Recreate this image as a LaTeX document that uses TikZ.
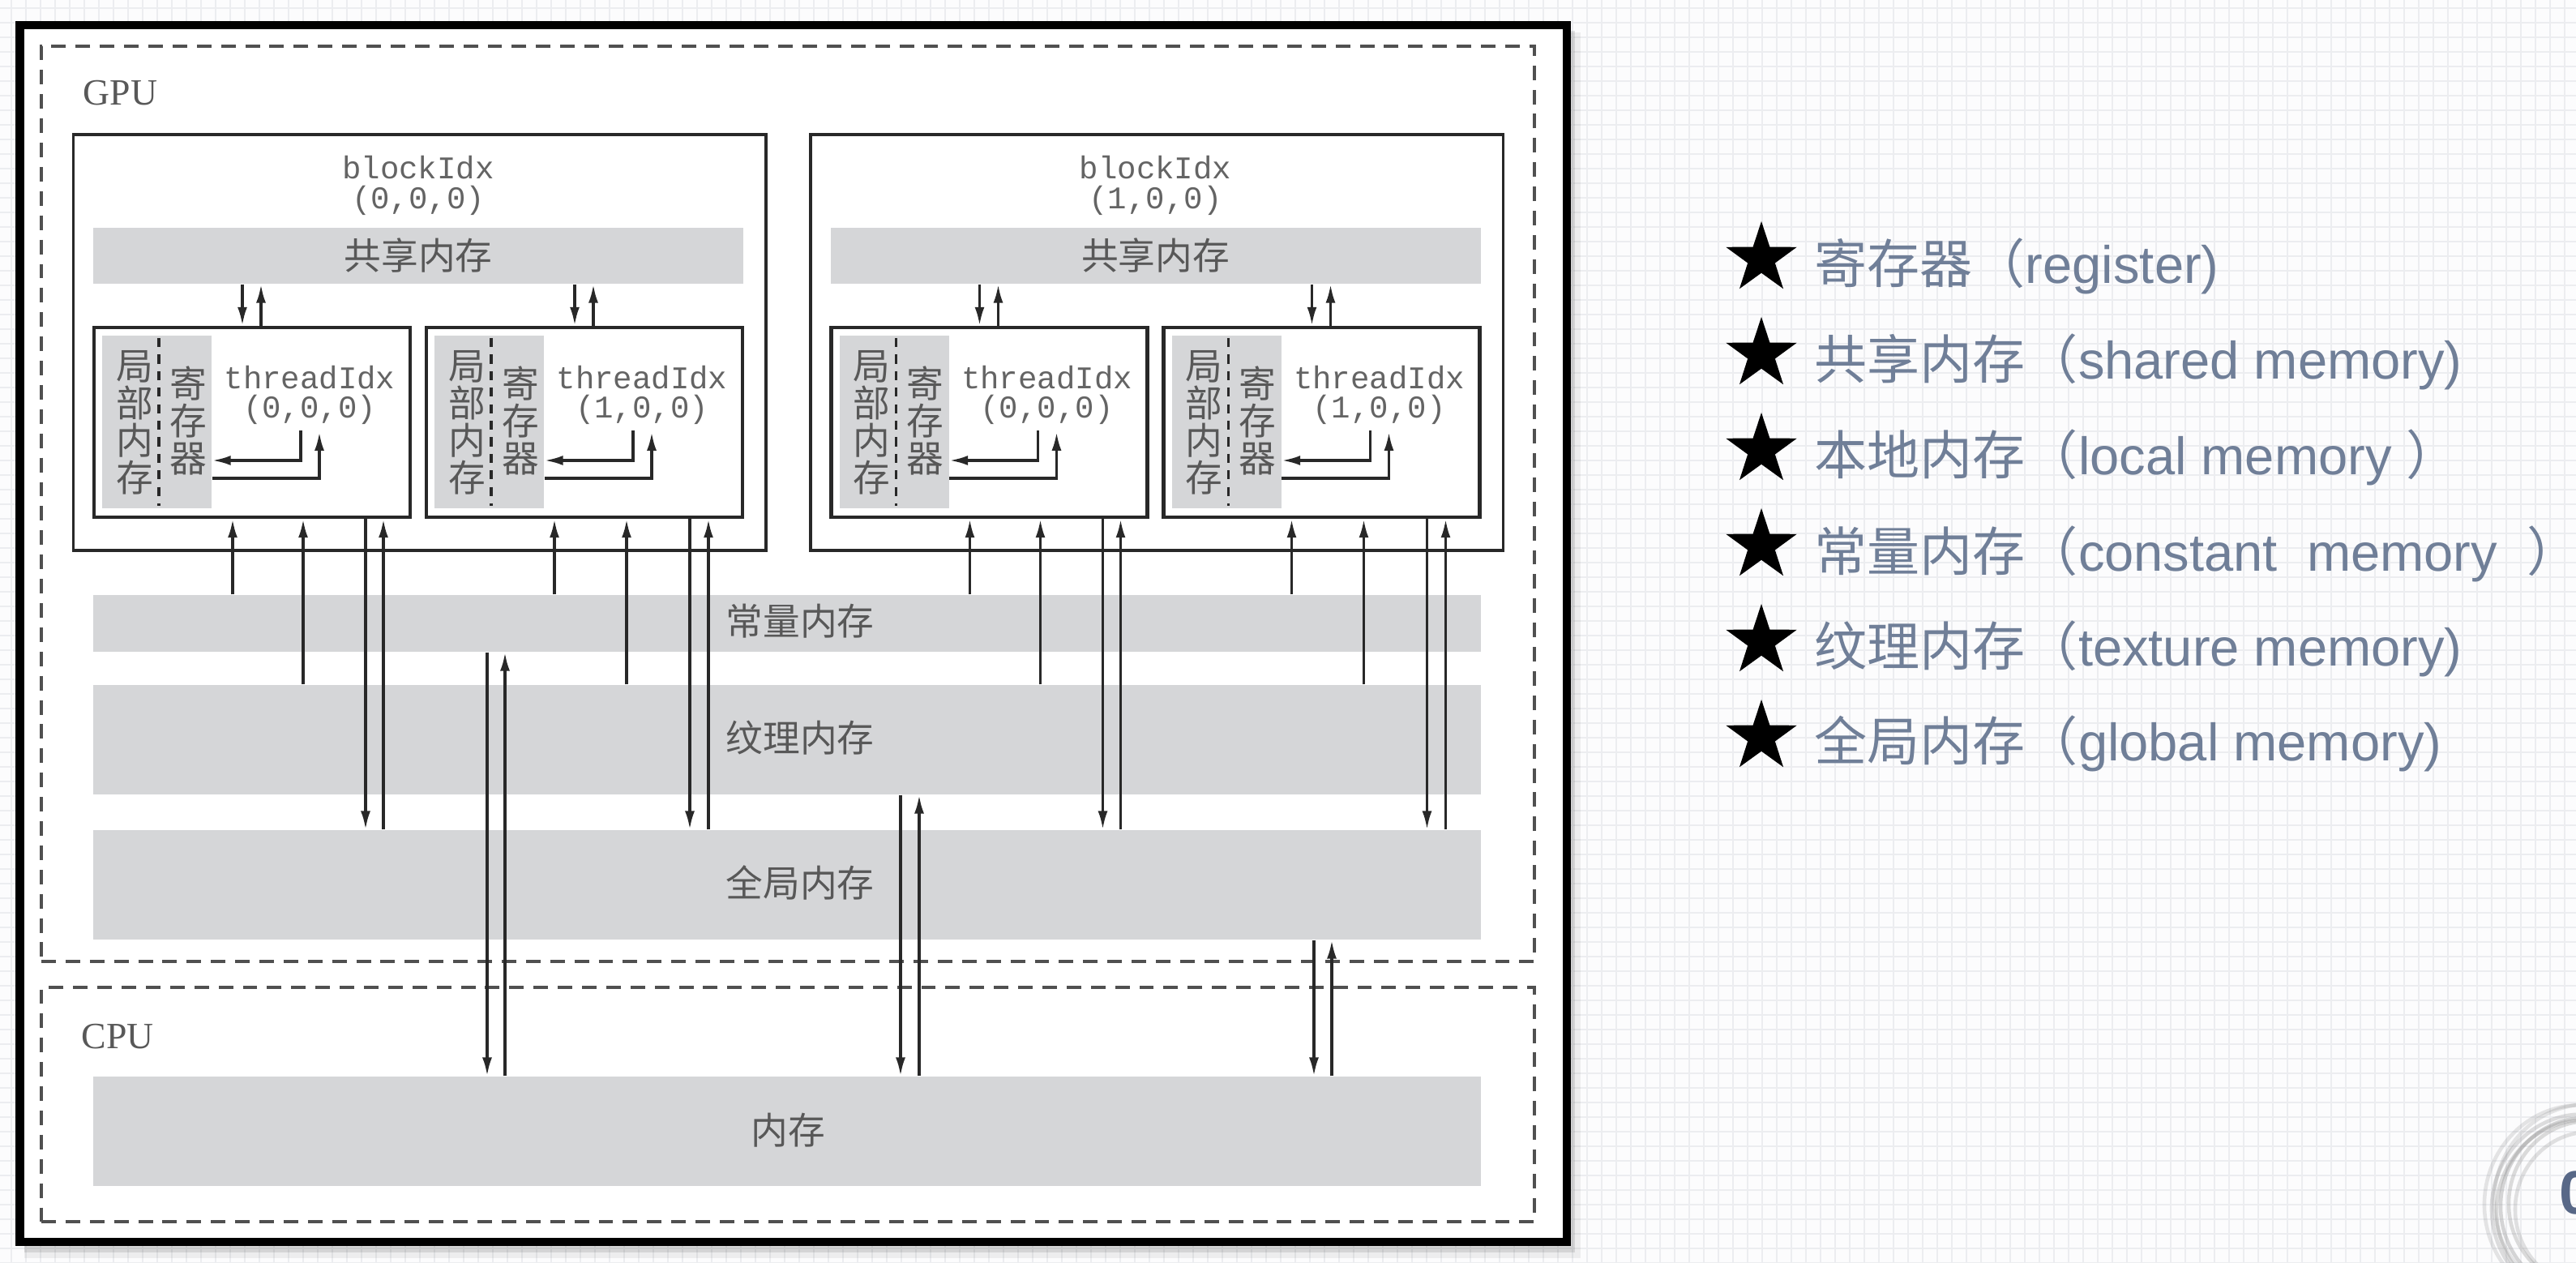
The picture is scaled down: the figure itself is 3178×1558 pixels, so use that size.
\documentclass[tikz,border=0pt]{standalone}
\usepackage{fontspec}
\setmainfont{Liberation Serif}
\setmonofont{Liberation Mono}
\newfontfamily\cjk{Noto Sans CJK SC}
\newfontfamily\lsans{Liberation Sans}
\usetikzlibrary{arrows.meta,shapes.geometric,fit}
\definecolor{barfill}{RGB}{213,214,216}
\definecolor{txtgray}{RGB}{88,88,88}
\definecolor{monogray}{RGB}{100,100,100}
\definecolor{linec}{RGB}{40,40,40}
\definecolor{dashc}{RGB}{80,80,80}
\definecolor{legc}{RGB}{112,127,152}
\definecolor{gridc}{RGB}{236,237,240}
\definecolor{bgc}{RGB}{252,252,253}
\definecolor{logoc}{RGB}{88,104,135}

\newcommand{\mkblock}[3]{%
  \pgfmathsetmacro\bL{#2}\pgfmathsetmacro\bR{#2+854.5}%
  \coordinate (#1a) at (\bL,166); \coordinate (#1b) at (\bR,679);
  \node[blk, fit=(#1a)(#1b)] (#1) {};
  \pgfmathsetmacro\sL{#2+24.5}\pgfmathsetmacro\sR{#2+826.5}%
  \coordinate (#1sa) at (\sL,281); \coordinate (#1sb) at (\sR,350);
  \node[bar, fit=(#1sa)(#1sb)] (#1sh) {};
  \node[lbl] (#1shl) at (#1sh.center) {共享内存};
  \pgfmathsetmacro\bC{#2+425.5}%
  \node[mono] (#1ta) at (\bC,221) {blockIdx};
  \node[mono] (#1tb) at (\bC,258) {(#3,0,0)};
}

% #1 name, #2 left, #3 const off, #4 tex off, #5 down off, #6 up off, #7 idx, #8 shared bar
\newcommand{\mkthread}[8]{%
  \pgfmathsetmacro\tL{#2}\pgfmathsetmacro\tR{#2+390}%
  \coordinate (#1a) at (\tL,404); \coordinate (#1b) at (\tR,638);
  \node[thr, fit=(#1a)(#1b)] (#1) {};
  \pgfmathsetmacro\gL{#2+10}\pgfmathsetmacro\gR{#2+145}%
  \coordinate (#1ga) at (\gL,414); \coordinate (#1gb) at (\gR,627);
  \node[bar, fit=(#1ga)(#1gb)] (#1g) {};
  \pgfmathsetmacro\dX{#2+80}%
  \coordinate (#1da) at (\dX,417); \coordinate (#1db) at (\dX,624);
  \draw[innerdash] (#1da) -- (#1db);
  \pgfmathsetmacro\cA{#2+50}\pgfmathsetmacro\cB{#2+116}%
  \node[vlbl] (#1loc) at (\cA,521) {局\\部\\内\\存};
  \node[vlbl] (#1reg) at (\cB,519) {寄\\存\\器};
  \pgfmathsetmacro\cC{#2+266}%
  \node[mono] (#1ta) at (\cC,480) {threadIdx};
  \node[mono] (#1tb) at (\cC,515) {(#7,0,0)};
  \pgfmathsetmacro\aX{#2+255}\pgfmathsetmacro\bX{#2+278}%
  \coordinate (#1p1) at (\aX,531); \coordinate (#1p2) at (\aX,568);
  \draw[arr] (#1p1) -- (#1p2) -- (#1g.east |- #1p2);
  \coordinate (#1q1) at (\bX,590); \coordinate (#1q2) at (\bX,533);
  \draw[arr] (#1g.east |- #1q1) -- (#1q1) -- (#1q2);
  \pgfmathsetmacro\sA{#2+183}\pgfmathsetmacro\sB{#2+206}%
  \coordinate (#1s1) at (\sA,0); \coordinate (#1s2) at (\sB,0);
  \draw[arr] (#1s1 |- #8.south) -- (#1s1 |- #1.north);
  \draw[arr] (#1s2 |- #1.north) -- (#1s2 |- #8.south);
  \pgfmathsetmacro\xC{#2+#3}\pgfmathsetmacro\xT{#2+#4}%
  \pgfmathsetmacro\xD{#2+#5}\pgfmathsetmacro\xU{#2+#6}%
  \coordinate (#1xc) at (\xC,0); \coordinate (#1xt) at (\xT,0);
  \coordinate (#1xd) at (\xD,0); \coordinate (#1xu) at (\xU,0);
  \draw[arr] (#1xc |- cbar.north) -- (#1xc |- #1.south);
  \draw[arr] (#1xt |- tbar.north) -- (#1xt |- #1.south);
  \draw[arr] (#1xd |- #1.south) -- (#1xd |- gbar.north);
  \draw[arr] (#1xu |- gbar.north) -- (#1xu |- #1.south);
}

\begin{document}
\begin{tikzpicture}[x=0.01cm,y=-0.01cm,
  bar/.style={fill=barfill, draw=none, inner sep=0pt},
  blk/.style={draw=linec, line width=1.05pt, fill=white, inner sep=0pt},
  thr/.style={draw=linec, line width=1.35pt, fill=white, inner sep=0pt},
  dashbox/.style={draw=dashc, line width=1.35pt, dash pattern=on 5.1pt off 3.4pt, inner sep=0pt},
  innerdash/.style={draw=linec, line width=0.95pt, dash pattern=on 3.2pt off 2.6pt},
  arr/.style={draw=linec, line width=0.95pt, -{Latex[length=6.5pt,width=3.4pt]}},
  lbl/.style={text=txtgray, font=\cjk\fontsize{13}{13}\selectfont, inner sep=0pt},
  vlbl/.style={text=txtgray, font=\cjk\fontsize{13}{13.1}\selectfont, inner sep=0pt, align=center},
  mono/.style={text=monogray, font=\ttfamily\fontsize{11.1}{11.1}\selectfont, inner sep=0pt, anchor=base},
  serifl/.style={text=txtgray, font=\rmfamily\fontsize{13}{13}\selectfont, inner sep=0pt, anchor=base west},
  legtxt/.style={text=legc, inner sep=0pt, anchor=base west, font=\fontsize{18.5}{18.5}\selectfont},
  legstar/.style={star, star points=5, star point ratio=2.6, fill=black, draw=none, minimum size=0.92cm, inner sep=0pt}
]
\useasboundingbox (0,0) rectangle (3178,1558);
% background with faint grid
\fill[bgc] (0,0) rectangle (3178,1558);
\foreach \gx in {14,32,...,3178} \draw[gridc, line width=0.6pt] (\gx,0) -- (\gx,1558);
\foreach \gy in {10,28,...,1558} \draw[gridc, line width=0.6pt] (0,\gy) -- (3178,\gy);

% frame with shadow
\fill[black, opacity=0.06] (30,40) rectangle (1950,1552);
\fill[black, opacity=0.10] (30,38) rectangle (1943,1545);
\coordinate (fra) at (24.5,31); \coordinate (frb) at (1933,1532);
\node[draw=black, line width=2.85pt, fill=white, inner sep=0pt, fit=(fra)(frb)] (frame) {};

% GPU / CPU dashed regions
\coordinate (gpa) at (51,57); \coordinate (gpb) at (1893,1186);
\node[dashbox, fit=(gpa)(gpb)] (gpubox) {};
\coordinate (cpa) at (51,1218); \coordinate (cpb) at (1893,1507);
\node[dashbox, fit=(cpa)(cpb)] (cpubox) {};
\node[serifl] (gpulbl) at (102,130) {GPU};
\node[serifl] (cpulbl) at (100,1293) {CPU};

% memory bars
\coordinate (ca) at (115,734); \coordinate (cb) at (1827,804);
\node[bar, fit=(ca)(cb)] (cbar) {};
\coordinate (ta) at (115,845); \coordinate (tb) at (1827,980);
\node[bar, fit=(ta)(tb)] (tbar) {};
\coordinate (ga) at (115,1024); \coordinate (gb) at (1827,1159);
\node[bar, fit=(ga)(gb)] (gbar) {};
\coordinate (ma) at (115,1328); \coordinate (mb) at (1827,1463);
\node[bar, fit=(ma)(mb)] (mbar) {};
\node[lbl] (cbarl) at (987,766) {常量内存};
\node[lbl] (tbarl) at (987,910) {纹理内存};
\node[lbl] (gbarl) at (987,1089) {全局内存};
\node[lbl] (mbarl) at (972,1394) {内存};

% blocks and threads
\mkblock{bk0}{90.5}{0}
\mkthread{th00}{116}{171}{258}{335}{357}{0}{bk0sh}
\mkthread{th01}{526}{158}{247}{325}{348}{1}{bk0sh}
\mkblock{bk1}{1000}{1}
\mkthread{th10}{1025.5}{171}{258}{335}{357}{0}{bk1sh}
\mkthread{th11}{1435.5}{158}{247}{325}{348}{1}{bk1sh}

% GPU <-> CPU transfers
\coordinate (pa1) at (601,0); \coordinate (pb1) at (623,0);
\draw[arr] (pa1 |- cbar.south) -- (pa1 |- mbar.north);
\draw[arr] (pb1 |- mbar.north) -- (pb1 |- cbar.south);
\coordinate (pa2) at (1111,0); \coordinate (pb2) at (1134,0);
\draw[arr] (pa2 |- tbar.south) -- (pa2 |- mbar.north);
\draw[arr] (pb2 |- mbar.north) -- (pb2 |- tbar.south);
\coordinate (pa3) at (1621,0); \coordinate (pb3) at (1643,0);
\draw[arr] (pa3 |- gbar.south) -- (pa3 |- mbar.north);
\draw[arr] (pb3 |- mbar.north) -- (pb3 |- gbar.south);

% legend
\node[legstar] (s1) at (2173,319) {};
\node[legtxt] (l1) at (2238,350) {{\cjk 寄存器（}{\lsans register)}};
\node[legstar] (s2) at (2173,437) {};
\node[legtxt] (l2) at (2238,468) {{\cjk 共享内存（}{\lsans shared memory)}};
\node[legstar] (s3) at (2173,555) {};
\node[legtxt] (l3) at (2238,586) {{\cjk 本地内存（}{\lsans local memory }{\cjk ）}};
\node[legstar] (s4) at (2173,673) {};
\node[legtxt] (l4) at (2238,704) {{\cjk 常量内存（}{\lsans constant\ \ memory\ \ }{\cjk ）}};
\node[legstar] (s5) at (2173,791) {};
\node[legtxt] (l5) at (2238,821) {{\cjk 纹理内存（}{\lsans texture memory)}};
\node[legstar] (s6) at (2173,909) {};
\node[legtxt] (l6) at (2238,938) {{\cjk 全局内存（}{\lsans global memory)}};

% corner logo (partly outside the page, as in the reference)
\foreach \dx/\dy/\r/\o in {0/0/1.05/0.35, -4/3/1.12/0.28, 3/-3/0.98/0.30, -7/-2/1.18/0.22, 5/4/0.92/0.25, -2/6/1.08/0.30, 2/-6/1.15/0.22}
  \draw[black!45, opacity=\o, line width=1.3pt] (3190+\dx,1488+\dy) ellipse [x radius=\r cm, y radius=\r cm*1.04];
\node[text=logoc, inner sep=0pt, anchor=base west, font=\lsans\bfseries\fontsize{21.5}{21.5}\selectfont] (logo) at (3157,1497) {0};
\end{tikzpicture}
\end{document}
